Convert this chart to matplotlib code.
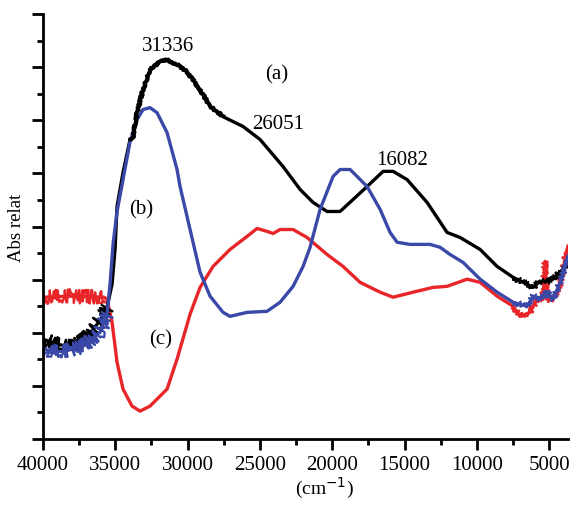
import matplotlib
matplotlib.use("Agg")
import matplotlib.pyplot as plt
from matplotlib.ticker import MultipleLocator, NullFormatter

# spectrum (a) - black
xa = [40000, 39032, 37994, 36957, 36265, 35781, 35573, 35227, 35020, 34881, 34467, 33982,
      33775, 33498, 33083, 32599, 31907, 31423, 30731, 30040, 29140, 28449, 27965, 27550,
      26166, 24990, 23399, 22224, 21324, 20356, 19457, 18558, 17590, 16483, 15792, 14823,
      13440, 12057, 11158, 9774, 8598, 7492, 6524, 6109, 5625, 5141, 4726, 4035, 3700]
ya = [3.76, 3.57, 3.46, 3.83, 4.32, 4.70, 4.96, 5.83, 7.14, 8.76, 10.04, 11.28,
      11.39, 12.29, 13.16, 13.91, 14.21, 14.29, 14.10, 13.83, 13.16, 12.52, 12.33, 12.14,
      11.77, 11.28, 10.26, 9.40, 8.91, 8.57, 8.57, 9.02, 9.51, 10.08, 10.08, 9.77,
      8.91, 7.78, 7.59, 7.14, 6.50, 6.09, 5.83, 5.71, 5.94, 5.94, 6.02, 6.39, 6.58]

# spectrum (b) - blue
xb = [40000, 39516, 38478, 37233, 36057, 35573, 35366, 35158, 34881, 34467, 33982, 33498,
      33083, 32599, 32115, 31423, 30731, 30524, 29832, 29140, 28449, 27550, 27066, 25890,
      24506, 23607, 22708, 22016, 21532, 20840, 19941, 19457, 18765, 18281, 17590, 16691,
      15999, 15515, 14616, 13233, 12541, 11849, 10949, 9774, 8598, 7492, 6524, 6109,
      5625, 5141, 4726, 4242, 3827, 3700]
yb = [3.46, 3.27, 3.31, 3.50, 4.02, 4.70, 5.83, 7.33, 8.57, 9.77, 11.20, 12.03,
      12.41, 12.48, 12.29, 11.54, 10.15, 9.51, 7.89, 6.28, 5.38, 4.77, 4.62, 4.77,
      4.81, 5.15, 5.75, 6.50, 7.22, 8.65, 9.89, 10.15, 10.15, 9.89, 9.51, 8.65,
      7.78, 7.41, 7.33, 7.33, 7.22, 6.95, 6.65, 6.02, 5.53, 5.15, 5.00, 5.38,
      5.26, 5.53, 5.26, 5.90, 6.58, 6.88]

# spectrum (c) - red
xc = [40000, 38132, 35781, 35573, 35227, 34881, 34467, 33844, 33290, 32599, 31423, 30731,
      29832, 29140, 28241, 27066, 25890, 25198, 24506, 24091, 23607, 22708, 21740, 20356,
      19250, 18074, 16691, 15792, 14409, 13025, 12057, 10674, 9774, 8598, 7492, 7009,
      6317, 5833, 5418, 5280, 5141, 4726, 4242, 3758, 3700]
yc = [5.34, 5.38, 5.34, 5.26, 4.40, 2.89, 1.88, 1.24, 1.05, 1.24, 1.88, 3.01,
      4.70, 5.71, 6.50, 7.14, 7.63, 7.93, 7.82, 7.74, 7.89, 7.89, 7.59, 6.95,
      6.50, 5.90, 5.53, 5.34, 5.53, 5.71, 5.75, 6.02, 5.90, 5.38, 5.00, 4.62,
      4.77, 5.26, 5.26, 6.69, 5.26, 5.26, 5.83, 7.14, 7.26]

labels = [("31336", 31336, 14.66), ("(a)", 23814, 13.57), ("26051", 23750, 11.73),
          ("16082", 15168, 10.34), ("(b)", 33220, 8.50), ("(c)", 31838, 3.61)]

plt.rcParams['font.family'] = ['Liberation Serif', 'DejaVu Serif']

fig = plt.figure(figsize=(5.76, 5.06), dpi=100)
ax = fig.add_axes([0.0747, 0.1304, 0.9113, 0.8396])

series = [(xc, yc, '#e8262a'), (xa, ya, '#000000'), (xb, yb, '#3a48a8')]
for xs, ys, col in series:
    ax.plot(xs, ys, color=col, lw=2.4, solid_joinstyle='round')
    # noisy ends of the spectra
    left = [(x, y) for x, y in zip(xs, ys) if x >= 35500]
    l1, = ax.plot([p[0] for p in left], [p[1] for p in left], color=col, lw=1.6)
    l1.set_sketch_params(scale=7, length=1.5, randomness=4)
    right = [(x, y) for x, y in zip(xs, ys) if x <= 7600]
    l2, = ax.plot([p[0] for p in right], [p[1] for p in right], color=col, lw=1.4)
    l2.set_sketch_params(scale=3, length=1.5, randomness=4)

mid = [(x, y) for x, y in zip(xa, ya) if 34000 >= x >= 26500]
l3, = ax.plot([p[0] for p in mid], [p[1] for p in mid], color='black', lw=2.6)
l3.set_sketch_params(scale=1.2, length=1.5, randomness=4)

for txt, x, y in labels:
    ax.text(x, y, txt, ha='center', va='baseline', fontsize=15)

ax.set_xlim(40000, 3700)
ax.set_ylim(0, 16)
ax.xaxis.set_major_locator(MultipleLocator(5000))
ax.xaxis.set_minor_locator(MultipleLocator(2500))
ax.yaxis.set_major_locator(MultipleLocator(2))
ax.yaxis.set_minor_locator(MultipleLocator(1))
ax.yaxis.set_major_formatter(NullFormatter())
ax.tick_params(which='major', direction='out', length=8, width=2, labelsize=15)
ax.tick_params(which='minor', direction='out', length=4, width=2)
ax.spines['top'].set_visible(False)
ax.spines['right'].set_visible(False)
ax.spines['left'].set_linewidth(2)
ax.spines['bottom'].set_linewidth(2)
ax.set_xlabel('(cm$^{-1}$)', fontsize=14)
ax.set_ylabel('Abs relat', fontsize=13.5)
ax.xaxis.set_label_coords(0.537, -0.085)
ax.yaxis.set_label_coords(-0.034, 0.5)

fig.savefig('out.png', dpi=100)
